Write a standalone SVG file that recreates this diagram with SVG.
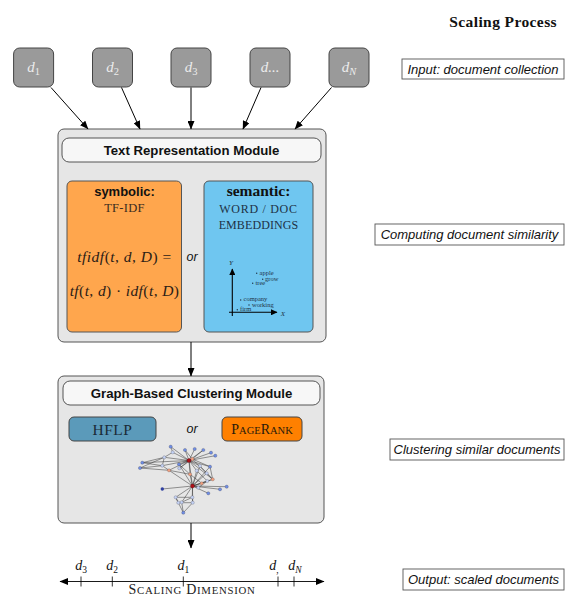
<svg xmlns="http://www.w3.org/2000/svg" width="585" height="613" viewBox="0 0 585 613">
<defs>
<marker id="ah" markerWidth="9" markerHeight="7" refX="8" refY="3.5" orient="auto-start-reverse" markerUnits="userSpaceOnUse">
<path d="M0,0 L8.5,3.5 L0,7 z" fill="#000"/>
</marker>
<marker id="ahs" markerWidth="7" markerHeight="6" refX="6" refY="3" orient="auto" markerUnits="userSpaceOnUse">
<path d="M0,0 L6.5,3 L0,6 z" fill="#000"/>
</marker>
</defs>
<style>
.doc{fill:#9a9a9a;stroke:#444;stroke-width:1}
.doct{font-family:"Liberation Serif",serif;font-style:italic;font-size:15px;fill:#ececec}
.mod{fill:#e6e6e6;stroke:#555;stroke-width:1}
.hdr{fill:#f7f7f7;stroke:#555;stroke-width:1}
.hdrt{font-family:"Liberation Sans",sans-serif;font-weight:bold;font-size:13.2px;fill:#111}
.lab{fill:#fff;stroke:#555;stroke-width:0.9}
.labt{font-family:"Liberation Sans",sans-serif;font-style:italic;font-size:13px;fill:#111}
.serif{font-family:"Liberation Serif",serif}
.or{font-family:"Liberation Sans",sans-serif;font-style:italic;font-size:12.5px;fill:#111}
.conn{stroke:#000;stroke-width:1;fill:none}
.ge{stroke:#333;stroke-width:0.5}
.nb{fill:#6f8ee6;stroke:#445;stroke-width:0.3}
.nl{fill:#c4d2f4;stroke:#556;stroke-width:0.3}
.ns{fill:#f0a080;stroke:#655;stroke-width:0.3}
.nr{fill:#b0101a;stroke:#400;stroke-width:0.3}
.emb{font-family:"Liberation Serif",serif;font-size:6.5px;fill:#1e3246}
</style>

<text x="557" y="27" text-anchor="end" class="serif" font-weight="bold" font-size="15.5" letter-spacing="0.4" fill="#111">Scaling Process</text>

<g id="d1"><rect class="doc" x="13.6" y="48" width="40" height="39" rx="6"/><text class="doct" x="33.6" y="72" text-anchor="middle">d<tspan font-style="normal" font-size="10.5" dy="2.5">1</tspan></text></g>
<g id="d2"><rect class="doc" x="92.5" y="48" width="40" height="39" rx="6"/><text class="doct" x="112.5" y="72" text-anchor="middle">d<tspan font-style="normal" font-size="10.5" dy="2.5">2</tspan></text></g>
<g id="d3"><rect class="doc" x="171" y="48" width="40" height="39" rx="6"/><text class="doct" x="191" y="72" text-anchor="middle">d<tspan font-style="normal" font-size="10.5" dy="2.5">3</tspan></text></g>
<g id="ddots"><rect class="doc" x="250" y="48" width="40" height="39" rx="6"/><text class="doct" x="270" y="72" text-anchor="middle">d...</text></g>
<g id="dN"><rect class="doc" x="329" y="48" width="40" height="39" rx="6"/><text class="doct" x="349" y="72" text-anchor="middle">d<tspan font-size="10.5" dy="2.5">N</tspan></text></g>

<g id="label-input"><rect class="lab" x="402" y="59" width="162" height="20"/><text class="labt" x="483" y="73.5" text-anchor="middle">Input: document collection</text></g>
<g id="label-computing"><rect class="lab" x="375" y="224" width="189" height="21"/><text class="labt" x="469.5" y="239" text-anchor="middle">Computing document similarity</text></g>
<g id="label-clustering"><rect class="lab" x="390" y="439" width="174" height="21"/><text class="labt" x="477" y="454" text-anchor="middle">Clustering similar documents</text></g>
<g id="label-output"><rect class="lab" x="403" y="569" width="161" height="21"/><text class="labt" x="483.5" y="584" text-anchor="middle">Output: scaled documents</text></g>

<g id="text-module">
<rect class="mod" x="58" y="129" width="268" height="213" rx="6"/>
<rect class="hdr" x="62" y="138" width="259" height="24" rx="7"/>
<text class="hdrt" x="191.5" y="155" text-anchor="middle">Text Representation Module</text>
<g id="symbolic">
<rect x="67" y="181" width="114.5" height="151" rx="5" fill="#ffa64d" stroke="#555" stroke-width="1"/>
<text x="124.5" y="196" text-anchor="middle" font-family="Liberation Sans, sans-serif" font-weight="bold" font-size="13" fill="#111">symbolic:</text>
<text x="124.5" y="212" text-anchor="middle" class="serif" font-size="12.5" letter-spacing="0.3" fill="#3b2c1e">TF-IDF</text>
<text x="124.5" y="262" text-anchor="middle" class="serif" font-size="15.5" letter-spacing="0.5" fill="#2b2016"><tspan font-style="italic">tfidf</tspan>(<tspan font-style="italic">t</tspan>, <tspan font-style="italic">d</tspan>, <tspan font-style="italic">D</tspan>) =</text>
<text x="124.5" y="296" text-anchor="middle" class="serif" font-size="15.5" letter-spacing="0.4" fill="#2b2016"><tspan font-style="italic">tf</tspan>(<tspan font-style="italic">t</tspan>, <tspan font-style="italic">d</tspan>) · <tspan font-style="italic">idf</tspan>(<tspan font-style="italic">t</tspan>, <tspan font-style="italic">D</tspan>)</text>
</g>
<text class="or" x="192" y="261" text-anchor="middle">or</text>
<g id="semantic">
<rect x="204" y="181" width="109" height="151" rx="5" fill="#6fc6f0" stroke="#555" stroke-width="1"/>
<text x="258.5" y="196" text-anchor="middle" class="serif" font-weight="bold" font-size="15.5" fill="#111">semantic:</text>
<text x="258.5" y="212.5" text-anchor="middle" class="serif" font-size="12" letter-spacing="0.7" fill="#1e3246">WORD / DOC</text>
<text x="258.5" y="228.5" text-anchor="middle" class="serif" font-size="12" letter-spacing="0.1" fill="#1e3246">EMBEDDINGS</text>
<line x1="232.3" y1="316" x2="232.3" y2="269" stroke="#000" stroke-width="1.1" marker-end="url(#ahs)"/>
<line x1="229" y1="312.3" x2="277" y2="312.3" stroke="#000" stroke-width="1.1" marker-end="url(#ahs)"/>
<text x="231" y="265" text-anchor="middle" class="serif" font-style="italic" font-size="7" fill="#1e3246">Y</text>
<text x="283" y="316" text-anchor="middle" class="serif" font-style="italic" font-size="7" fill="#1e3246">X</text>
<circle cx="256.7" cy="273.3" r="0.7" fill="#1e3246"/><text class="emb" x="259.5" y="275.3">apple</text>
<circle cx="262.7" cy="279.3" r="0.7" fill="#1e3246"/><text class="emb" x="265" y="280.8">grow</text>
<circle cx="252.7" cy="283.3" r="0.7" fill="#1e3246"/><text class="emb" x="255.5" y="285">tree</text>
<circle cx="240.7" cy="300" r="0.7" fill="#1e3246"/><text class="emb" x="243.5" y="301.3">company</text>
<circle cx="249" cy="305" r="0.7" fill="#1e3246"/><text class="emb" x="252" y="306.8">working</text>
<circle cx="237.3" cy="309.7" r="0.7" fill="#1e3246"/><text class="emb" x="240" y="311">firm</text>
</g>
</g>

<g id="graph-module">
<rect class="mod" x="58" y="376" width="266" height="147" rx="6"/>
<rect class="hdr" x="63" y="381" width="257" height="24" rx="7"/>
<text class="hdrt" x="191.5" y="398" text-anchor="middle">Graph-Based Clustering Module</text>
<g id="hflp"><rect x="69" y="417" width="87" height="24" rx="5" fill="#5b9aba" stroke="#444" stroke-width="1"/><text x="112.5" y="434.5" text-anchor="middle" class="serif" font-size="15.5" letter-spacing="0.5" fill="#1a2a36">HFLP</text></g>
<text class="or" x="192" y="433" text-anchor="middle">or</text>
<g id="pagerank"><rect x="222" y="417" width="80" height="24" rx="5" fill="#ff8000" stroke="#444" stroke-width="1"/><text x="262" y="434" text-anchor="middle" class="serif" font-size="14" fill="#2a1a0a">P<tspan font-size="10.5">AGE</tspan>R<tspan font-size="10.5">ANK</tspan></text></g>
<g id="network">
<g class="ge">
<line x1="189" y1="460.5" x2="170.7" y2="446.7"/><line x1="189" y1="460.5" x2="185" y2="450"/><line x1="189" y1="460.5" x2="194.7" y2="449"/><line x1="189" y1="460.5" x2="203.3" y2="450"/><line x1="189" y1="460.5" x2="211" y2="452.7"/><line x1="189" y1="460.5" x2="215.3" y2="455.7"/><line x1="189" y1="460.5" x2="172.7" y2="452.3"/><line x1="189" y1="460.5" x2="164.3" y2="457.3"/><line x1="189" y1="460.5" x2="142.3" y2="462.7"/><line x1="189" y1="460.5" x2="162.3" y2="465.7"/><line x1="189" y1="460.5" x2="169" y2="470.3"/><line x1="189" y1="460.5" x2="179" y2="464.3"/><line x1="189" y1="460.5" x2="179.3" y2="468.3"/><line x1="189" y1="460.5" x2="190" y2="474.3"/><line x1="189" y1="460.5" x2="196.7" y2="470.7"/><line x1="189" y1="460.5" x2="200" y2="466"/><line x1="189" y1="460.5" x2="210" y2="466.7"/><line x1="189" y1="460.5" x2="192.5" y2="486"/><line x1="189" y1="460.5" x2="212.7" y2="479.3"/>
<line x1="192.3" y1="459" x2="185" y2="450"/><line x1="192.3" y1="459" x2="203.3" y2="450"/><line x1="192.3" y1="459" x2="210" y2="466.7"/><line x1="192.3" y1="459" x2="206.7" y2="473.3"/><line x1="192.3" y1="459" x2="179.3" y2="468.3"/>
<line x1="192.5" y1="486" x2="162.3" y2="489"/><line x1="192.5" y1="486" x2="208.3" y2="493.3"/><line x1="192.5" y1="486" x2="220" y2="489.3"/><line x1="192.5" y1="486" x2="226.7" y2="486.7"/><line x1="192.5" y1="486" x2="175.7" y2="497.3"/><line x1="192.5" y1="486" x2="181.7" y2="502.3"/><line x1="192.5" y1="486" x2="192.3" y2="497.3"/><line x1="192.5" y1="486" x2="192.7" y2="502.7"/><line x1="192.5" y1="486" x2="201.7" y2="483.3"/><line x1="192.5" y1="486" x2="207.3" y2="481"/><line x1="192.5" y1="486" x2="212.7" y2="479.3"/><line x1="192.5" y1="486" x2="190" y2="474.3"/><line x1="192.5" y1="486" x2="196.7" y2="470.7"/><line x1="192.5" y1="486" x2="179" y2="464.3"/><line x1="192.5" y1="486" x2="169" y2="470.3"/><line x1="192.5" y1="486" x2="198.3" y2="487.7"/><line x1="192.5" y1="486" x2="210" y2="466.7"/><line x1="192.5" y1="486" x2="206.7" y2="473.3"/><line x1="192.5" y1="486" x2="200" y2="466"/>
<line x1="142.3" y1="462.7" x2="164.3" y2="457.3"/><line x1="140" y1="468" x2="169" y2="470.3"/><line x1="142.3" y1="462.7" x2="162.3" y2="465.7"/><line x1="140" y1="468" x2="162.3" y2="465.7"/><line x1="140" y1="468" x2="164.3" y2="457.3"/><line x1="164.3" y1="457.3" x2="172.7" y2="452.3"/><line x1="170.7" y1="446.7" x2="172.7" y2="452.3"/><line x1="162.3" y1="465.7" x2="169" y2="470.3"/><line x1="164.3" y1="457.3" x2="162.3" y2="465.7"/><line x1="169" y1="470.3" x2="190" y2="474.3"/><line x1="179" y1="464.3" x2="190" y2="474.3"/><line x1="200" y1="466" x2="212.7" y2="479.3"/><line x1="196.7" y1="470.7" x2="207.3" y2="481"/><line x1="206.7" y1="473.3" x2="212.7" y2="479.3"/><line x1="201.7" y1="483.3" x2="212.7" y2="479.3"/><line x1="198.3" y1="487.7" x2="207.3" y2="481"/><line x1="210" y1="466.7" x2="212.7" y2="479.3"/><line x1="190" y1="474.3" x2="201.7" y2="483.3"/>
<line x1="175.7" y1="497.3" x2="192.3" y2="497.3"/><line x1="175.7" y1="497.3" x2="183.3" y2="512.7"/><line x1="192.7" y1="502.7" x2="183.3" y2="512.7"/><line x1="181.7" y1="502.3" x2="192.3" y2="497.3"/><line x1="178.3" y1="502.7" x2="192.7" y2="502.7"/><line x1="175.7" y1="497.3" x2="178.3" y2="502.7"/><line x1="192.3" y1="497.3" x2="192.7" y2="502.7"/><line x1="181.7" y1="502.3" x2="183.3" y2="512.7"/>
</g>
<circle class="nb" cx="170.7" cy="446.7" r="1.6"/><circle class="nb" cx="185" cy="450" r="1.6"/><circle class="nb" cx="194.7" cy="449" r="1.6"/><circle class="nb" cx="203.3" cy="450" r="1.6"/><circle class="nb" cx="211" cy="452.7" r="1.6"/><circle class="nb" cx="215.3" cy="455.7" r="1.6"/><circle class="nl" cx="172.7" cy="452.3" r="1.6"/>
<circle class="nl" cx="164.3" cy="457.3" r="1.6"/><circle class="nb" cx="142.3" cy="462.7" r="1.6"/><circle class="nb" cx="140" cy="468" r="1.6"/><circle class="nl" cx="162.3" cy="465.7" r="1.6"/><circle class="ns" cx="169" cy="470.3" r="1.6"/>
<circle class="nb" cx="179" cy="464.3" r="1.6"/><circle class="nl" cx="179.3" cy="468.3" r="1.6"/><circle class="ns" cx="190" cy="474.3" r="1.6"/><circle class="nl" cx="196.7" cy="470.7" r="1.6"/><circle class="nl" cx="200" cy="466" r="1.6"/><circle class="nb" cx="210" cy="466.7" r="1.6"/><circle class="nl" cx="206.7" cy="473.3" r="1.6"/><circle class="ns" cx="212.7" cy="479.3" r="1.6"/><circle class="nl" cx="207.3" cy="481" r="1.6"/><circle class="ns" cx="201.7" cy="483.3" r="1.6"/><circle class="nl" cx="198.3" cy="487.7" r="1.6"/>
<circle class="nb" cx="208.3" cy="493.3" r="1.6"/><circle class="nb" cx="220" cy="489.3" r="1.6"/><circle class="nb" cx="226.7" cy="486.7" r="1.6"/>
<circle cx="162.3" cy="489" r="1.7" fill="#2f3fa0"/>
<circle class="nl" cx="175.7" cy="497.3" r="1.6"/><circle class="nl" cx="181.7" cy="502.3" r="1.6"/><circle class="nl" cx="192.3" cy="497.3" r="1.6"/><circle class="nl" cx="192.7" cy="502.7" r="1.6"/><circle class="nl" cx="178.3" cy="502.7" r="1.6"/><circle class="nb" cx="183.3" cy="512.7" r="1.6"/>
<circle class="ns" cx="192.3" cy="459" r="1.7"/>
<circle class="nr" cx="189" cy="460.5" r="2"/><circle class="nr" cx="192.5" cy="486" r="2"/>
</g>
</g>

<g id="scaling-axis">
<line x1="60" y1="581.5" x2="324" y2="581.5" stroke="#000" stroke-width="0.9" marker-start="url(#ah)" marker-end="url(#ah)"/>
<g stroke="#000" stroke-width="0.8"><line x1="81" y1="576.5" x2="81" y2="586.5"/><line x1="112.3" y1="576.5" x2="112.3" y2="586.5"/><line x1="183.3" y1="576.5" x2="183.3" y2="586.5"/><line x1="278" y1="576.5" x2="278" y2="586.5"/><line x1="294" y1="576.5" x2="294" y2="586.5"/></g>
<g class="serif" font-size="14" fill="#111">
<text x="81" y="570" text-anchor="middle"><tspan font-style="italic">d</tspan><tspan font-size="9.5" dy="2.5">3</tspan></text>
<text x="112" y="570" text-anchor="middle"><tspan font-style="italic">d</tspan><tspan font-size="9.5" dy="2.5">2</tspan></text>
<text x="183.3" y="570" text-anchor="middle"><tspan font-style="italic">d</tspan><tspan font-size="9.5" dy="2.5">1</tspan></text>
<text x="274" y="570" text-anchor="middle"><tspan font-style="italic">d</tspan><tspan font-size="9.5" dy="2.5">,</tspan></text>
<text x="295" y="570" text-anchor="middle"><tspan font-style="italic">d</tspan><tspan font-size="9.5" font-style="italic" dy="2.5">N</tspan></text>
<text x="192" y="594" text-anchor="middle" font-size="14" letter-spacing="0.7" fill="#222">S<tspan font-size="10.8">CALING</tspan> D<tspan font-size="10.8">IMENSION</tspan></text>
</g>
</g>

<g id="connectors">
<line class="conn" x1="51" y1="87.5" x2="88" y2="129" marker-end="url(#ah)"/>
<line class="conn" x1="121.5" y1="87.5" x2="140" y2="129" marker-end="url(#ah)"/>
<line class="conn" x1="191" y1="87.5" x2="191" y2="129" marker-end="url(#ah)"/>
<line class="conn" x1="261" y1="87.5" x2="243" y2="129" marker-end="url(#ah)"/>
<line class="conn" x1="331.5" y1="87.5" x2="295" y2="129" marker-end="url(#ah)"/>
<line class="conn" x1="191" y1="342" x2="191" y2="376" marker-end="url(#ah)"/>
<line class="conn" x1="191" y1="523" x2="191" y2="548" marker-end="url(#ah)"/>
</g>
</svg>
